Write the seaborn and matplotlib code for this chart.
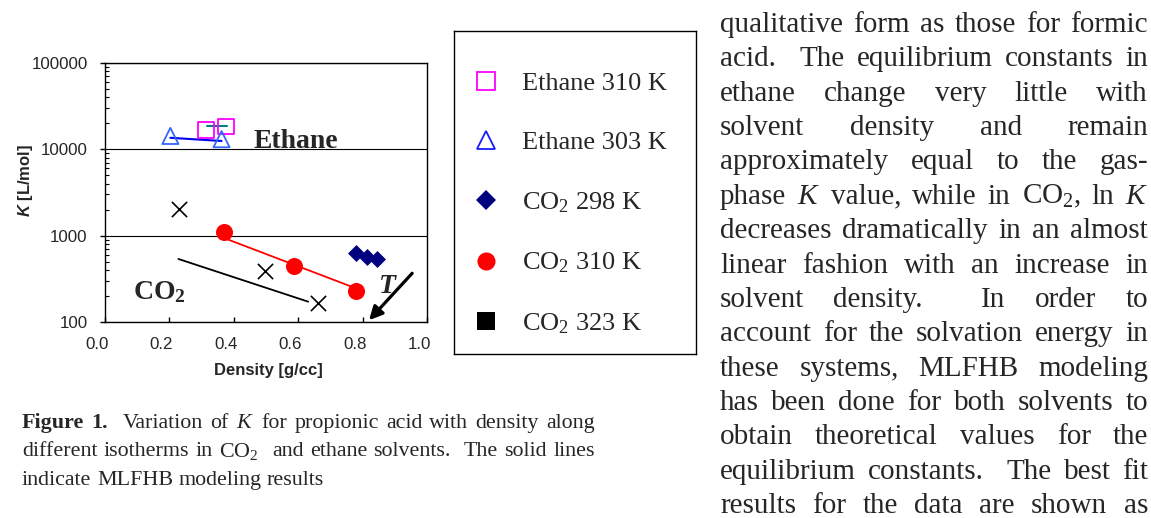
import matplotlib
matplotlib.use("Agg")
import matplotlib.pyplot as plt
import seaborn as sns
import numpy as np
from matplotlib.lines import Line2D
from matplotlib.ticker import FixedLocator, LogLocator, NullFormatter, FixedFormatter
from matplotlib.transforms import ScaledTranslation

# ---------------- data ----------------
eth310_rho = [0.314, 0.376]
eth310_K = [16700, 18300]
eth303_rho = [0.203, 0.362]
eth303_K = [14300, 13100]
co2_298_rho = [0.780, 0.813, 0.844]
co2_298_K = [625, 565, 535]
co2_310_rho = [0.371, 0.588, 0.780]
co2_310_K = [1110, 446, 229]
co2_323_rho = [0.230, 0.497, 0.662]
co2_323_K = [2040, 393, 165]

# MLFHB model lines
eth310_fit_rho = [0.316, 0.380]
eth310_fit_K = [18800, 18800]
eth303_fit_rho = [0.203, 0.362]
eth303_fit_K = [13600, 12500]
co2_310_fit_rho = [0.371, 0.780]
co2_310_fit_K = [935, 245]
co2_323_fit_rho = [0.228, 0.631]
co2_323_fit_K = [537, 172]

x_ticks = [0.0, 0.2, 0.4, 0.6, 0.8, 1.0]
x_tick_labels = ["0.0", "0.2", "0.4", "0.6", "0.8", "1.0"]
y_ticks = [100, 1000, 10000, 100000]
y_tick_labels = ["100", "1000", "10000", "100000"]
legend_labels = ["Ethane 310 K", "Ethane 303 K", "CO$_2$ 298 K", "CO$_2$ 310 K", "CO$_2$ 323 K"]

caption_lines = [
    "**Figure **1.  Variation of $K$ for propionic acid with density along",
    "different isotherms in CO$_2$  and ethane solvents.  The solid lines",
    "indicate MLFHB modeling results",
]
body_lines = [
    "qualitative form as those for formic",
    "acid.  The equilibrium constants in",
    "ethane change very little with",
    "solvent density and remain",
    "approximately equal to the gas-",
    "phase $K$ value, while in CO$_2$, ln $K$",
    "decreases dramatically in an almost",
    "linear fashion with an increase in",
    "solvent density.  In order to",
    "account for the solvation energy in",
    "these systems, MLFHB modeling",
    "has been done for both solvents to",
    "obtain theoretical values for the",
    "equilibrium constants.  The best fit",
    "results for the data are shown as",
]

# ---------------- style ----------------
sns.set_style("white")
plt.rcParams["font.family"] = ["Liberation Sans", "DejaVu Sans"]
plt.rcParams["mathtext.fontset"] = "custom"
plt.rcParams["mathtext.rm"] = "Liberation Serif"
plt.rcParams["mathtext.it"] = "Liberation Serif:italic"
plt.rcParams["mathtext.bf"] = "Liberation Serif:bold"
plt.rcParams["mathtext.sf"] = "Liberation Sans:bold:italic"

W, H = 1151, 518
fig = plt.figure(figsize=(W / 100, H / 100), dpi=100)
fig.patch.set_facecolor("white")
ax = fig.add_axes([105 / W, 1 - 322 / H, 322 / W, 259 / H])
ax.set_facecolor("white")
ax.set_yscale("log")
ax.set_xlim(0, 1)
ax.set_ylim(100, 100000)

# model lines
sns.lineplot(x=eth310_fit_rho, y=eth310_fit_K, ax=ax, color="#008080", lw=1.5,
             sort=False, estimator=None, legend=False)
sns.lineplot(x=eth303_fit_rho, y=eth303_fit_K, ax=ax, color="#0000EE", lw=1.5,
             sort=False, estimator=None, legend=False)
sns.lineplot(x=co2_310_fit_rho, y=co2_310_fit_K, ax=ax, color="#FF0000", lw=1.3,
             sort=False, estimator=None, legend=False)
sns.lineplot(x=co2_323_fit_rho, y=co2_323_fit_K, ax=ax, color="black", lw=1.3,
             sort=False, estimator=None, legend=False)

# data points
sns.scatterplot(x=eth310_rho, y=eth310_K, ax=ax, marker="s", s=125, color="#FF00FF",
                facecolor="none", edgecolor="#FF00FF", linewidth=1.3, legend=False, zorder=3)
sns.scatterplot(x=eth303_rho, y=eth303_K, ax=ax, marker="^", s=135, color="#3366FF",
                facecolor="none", edgecolor="#3366FF", linewidth=1.3, legend=False, zorder=3)
sns.scatterplot(x=co2_298_rho, y=co2_298_K, ax=ax, marker="D", s=75, color="#000080",
                edgecolor="#000080", linewidth=0, legend=False, zorder=3)
sns.scatterplot(x=co2_310_rho, y=co2_310_K, ax=ax, marker="o", s=150, color="#FF0000",
                edgecolor="#FF0000", linewidth=0, legend=False, zorder=3)
sns.scatterplot(x=co2_323_rho, y=co2_323_K, ax=ax, marker="x", s=120, color="black",
                linewidth=1.2, legend=False, zorder=3)

# annotations
serif = "Liberation Serif"
ax.text(0.46, 10380, "Ethane", family=serif, weight="bold", fontsize=20,
        ha="left", va="baseline")
ax.text(0.087, 182, r"CO$_\mathbf{2}$", family=serif, weight="bold", fontsize=20,
        ha="left", va="baseline")
ax.text(0.852, 217, "T", family=serif, weight="bold", style="italic", fontsize=20,
        ha="left", va="baseline")
ax.annotate("", xy=(0.820, 105), xytext=(0.954, 367),
            arrowprops=dict(arrowstyle="-|>", color="black", lw=2.3,
                            mutation_scale=20, shrinkA=0, shrinkB=0))

# axes styling
ax.yaxis.grid(True, which="major", color="black", lw=0.8)
ax.xaxis.grid(False)
ax.set_axisbelow(True)
for sp in ax.spines.values():
    sp.set_color("black")
    sp.set_linewidth(1.0)
ax.yaxis.set_major_locator(FixedLocator(y_ticks))
ax.yaxis.set_major_formatter(FixedFormatter(y_tick_labels))
ax.yaxis.set_minor_locator(LogLocator(base=10, subs=np.arange(2, 10)))
ax.yaxis.set_minor_formatter(NullFormatter())
ax.set_xticks(x_ticks)
ax.set_xticklabels(x_tick_labels)
ax.tick_params(axis="y", which="major", direction="out", length=3.5, width=1,
               color="black", labelsize=12.2, pad=9.0, left=True)
ax.tick_params(axis="y", which="minor", direction="in", length=3, width=0.8,
               color="black", left=True)
ax.tick_params(axis="x", which="major", direction="in", length=3.5, width=1,
               color="black", labelsize=12.2, pad=10.5, bottom=True)
for lab in ax.get_xticklabels():
    lab.set_transform(lab.get_transform() + ScaledTranslation(-0.08, 0, fig.dpi_scale_trans))

ax.set_xlabel("Density [g/cc]", fontsize=12, fontweight="bold")
ax.xaxis.set_label_coords((268 - 105) / 322, (322 - 363) / 259)
ax.set_ylabel(r"$\mathsf{K}$ [L/mol]", fontsize=12, fontweight="bold")
ax.yaxis.set_label_coords((35 - 105) / 322, (322 - 180) / 259)

# legend box
axb = fig.add_axes([454 / W, 1 - 354 / H, 242 / W, 323 / H])
axb.set_xticks([])
axb.set_yticks([])
axb.set_facecolor("white")
for sp in axb.spines.values():
    sp.set_color("black")
    sp.set_linewidth(1.0)
handles = [
    Line2D([], [], ls="none", marker="s", ms=12.5, mfc="none", mec="#FF00FF", mew=1.3),
    Line2D([], [], ls="none", marker="^", ms=13, mfc="none", mec="#1A1AFF", mew=1.3),
    Line2D([], [], ls="none", marker="D", ms=10, mfc="#000080", mec="#000080", mew=0),
    Line2D([], [], ls="none", marker="o", ms=13, mfc="#FF0000", mec="#FF0000", mew=0),
    Line2D([], [], ls="none", marker="s", ms=12.5, mfc="black", mec="black", mew=0),
]
axb.legend(handles=handles, labels=legend_labels, loc="center left",
           bbox_to_anchor=(0.023, 0.465), borderaxespad=0, borderpad=0.5,
           handlelength=1.0, handletextpad=0.86, labelspacing=1.36, frameon=False,
           prop={"family": serif, "size": 19})

# ---------------- page text ----------------
renderer = fig.canvas.get_renderer()


def parse(line):
    toks = []
    weight = 1
    for piece in line.split(" "):
        if piece == "":
            weight += 1
            continue
        kw = {}
        if piece.startswith("**"):
            piece = piece[2:]
            kw["fontweight"] = "bold"
        toks.append((piece, kw, weight))
        weight = 1
    return toks


def place_line(line, x0, x1, ybase, size, justify=True):
    toks = parse(line)
    objs = []
    for s, kw, wgt in toks:
        t = fig.text(0, 1 - ybase / H, s, fontsize=size, family=serif,
                     ha="left", va="baseline", **kw)
        objs.append(t)
    widths = [t.get_window_extent(renderer=renderer).width for t in objs]
    weights = [wgt for _, _, wgt in toks][1:]
    if justify and len(objs) > 1:
        gap = (x1 - x0 - sum(widths)) / sum(weights)
    else:
        gap = size * 100 / 72 * 0.25
    x = x0
    for i, (t, w) in enumerate(zip(objs, widths)):
        if i > 0:
            x += gap * weights[i - 1]
        t.set_x(x / W)
        x += w


for i, line in enumerate(caption_lines):
    place_line(line, 22, 595, 428 + i * 28.5, 15.8, justify=(i < 2))

for i, line in enumerate(body_lines):
    place_line(line, 720, 1148, 32 + i * 34.36, 21, justify=True)

fig.savefig("out.png", dpi=100, facecolor="white")
